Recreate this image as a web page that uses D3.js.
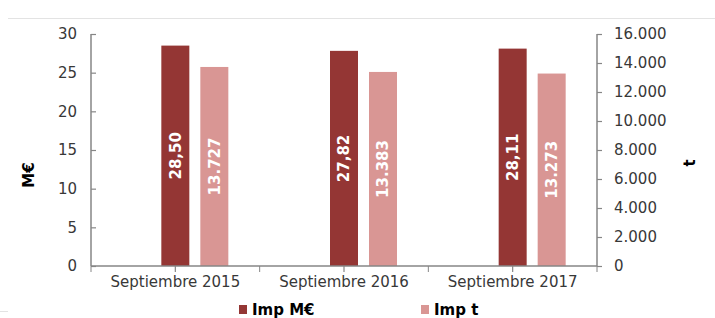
<!DOCTYPE html>
<html>
<head>
<meta charset="utf-8">
<script src="https://cdn.jsdelivr.net/npm/d3@7"></script>
<style>
  body { margin: 0; background: #fff; }
  text { font-family: "DejaVu Sans", Verdana, sans-serif; }
</style>
</head>
<body>
<div class="canvas"></div>
<script>
// data
const categories = ['Septiembre 2015', 'Septiembre 2016', 'Septiembre 2017'];
const impMEuro = [28.50, 27.82, 28.11];
const impT = [13727, 13383, 13273];
const seriesNames = ['Imp M€', 'Imp t'];
const leftTicks = [0, 5, 10, 15, 20, 25, 30];
const rightTicks = [0, 2000, 4000, 6000, 8000, 10000, 12000, 14000, 16000];

const dims = {width: 715, height: 318};
const plot = {left: 91, right: 597, top: 34, bottom: 266};
const colors = ['#943634', '#d99694'];
const axisColor = '#868686';
const textColor = '#383838';
const fontSize = 15;

const es = d3.formatLocale({decimal: ',', thousands: '.', grouping: [3], currency: ['', '€']});
const fmtThousands = es.format(',d');
const fmtDec = es.format(',.2f');

const svg = d3.select('.canvas')
    .append('svg')
    .attr('width', dims.width)
    .attr('height', dims.height);

// faint frame edges
svg.append('line')
    .attr('x1', 8).attr('x2', dims.width).attr('y1', 18.5).attr('y2', 18.5)
    .attr('stroke', '#e3e3e3');
svg.append('line')
    .attr('x1', 0).attr('x2', 8).attr('y1', 311.5).attr('y2', 311.5)
    .attr('stroke', '#e3e3e3');

const x = d3.scaleBand()
    .domain(categories)
    .range([plot.left, plot.right]);

const yLeft = d3.scaleLinear()
    .domain([0, 30])
    .range([plot.bottom, plot.top]);

const yRight = d3.scaleLinear()
    .domain([0, 16000])
    .range([plot.bottom, plot.top]);

const barW = 28;
const barStep = 39;

const graph = svg.append('g');

const rows = categories.map((c, i) => ({cat: c, vals: [impMEuro[i], impT[i]]}));

// bars
rows.forEach(r => {
    r.vals.forEach((v, j) => {
        const scale = j === 0 ? yLeft : yRight;
        const bx = x(r.cat) + x.bandwidth() / 2 - barW / 2 + j * barStep;
        const by = scale(v);
        graph.append('rect')
            .attr('x', bx)
            .attr('y', by)
            .attr('width', barW)
            .attr('height', plot.bottom - by)
            .attr('fill', colors[j]);

        const cx = bx + barW / 2;
        const cy = (by + plot.bottom) / 2;
        graph.append('text')
            .attr('transform', `translate(${cx}, ${cy}) rotate(-90)`)
            .attr('text-anchor', 'middle')
            .attr('dy', '0.36em')
            .attr('fill', '#fff')
            .attr('font-weight', 'bold')
            .attr('font-size', fontSize)
            .text(j === 0 ? fmtDec(v) : fmtThousands(v));
    });
});

// left axis
const leftAxis = svg.append('g')
    .attr('transform', `translate(${plot.left}, 0)`)
    .call(d3.axisLeft(yLeft).tickValues(leftTicks).tickSize(-5).tickPadding(14).tickFormat(d => d));

// right axis
const rightAxis = svg.append('g')
    .attr('transform', `translate(${plot.right}, 0)`)
    .call(d3.axisRight(yRight).tickValues(rightTicks).tickSize(5).tickPadding(12).tickFormat(fmtThousands));

// x axis
const xAxis = svg.append('g')
    .attr('transform', `translate(0, ${plot.bottom})`)
    .call(d3.axisBottom(x).tickSize(6).tickPadding(4));

// boundary ticks
const bounds = [plot.left].concat(categories.map(c => x(c) + x.bandwidth()));
xAxis.selectAll('.bound')
    .data(bounds)
    .enter()
    .append('line')
    .attr('class', 'bound')
    .attr('x1', d => d).attr('x2', d => d)
    .attr('y1', 0).attr('y2', 6)
    .attr('stroke', axisColor);

[leftAxis, rightAxis, xAxis].forEach(a => {
    a.select('.domain').attr('stroke', axisColor).attr('stroke-width', 1.5);
    a.selectAll('.tick line').attr('stroke', axisColor).attr('stroke-width', 1.2);
    a.selectAll('.tick text')
        .attr('fill', textColor)
        .attr('font-size', fontSize)
        .attr('font-family', '"DejaVu Sans", Verdana, sans-serif');
});
leftAxis.select('.domain').attr('d', `M0,${plot.top}V${plot.bottom}`);
rightAxis.select('.domain').attr('d', `M0,${plot.top}V${plot.bottom}`);
xAxis.select('.domain').attr('d', `M${plot.left},0H${plot.right}`);

// axis titles
svg.append('text')
    .attr('transform', 'translate(29, 175) rotate(-90)')
    .attr('text-anchor', 'middle')
    .attr('dy', '0.36em')
    .attr('font-weight', 'bold')
    .attr('font-size', fontSize)
    .attr('fill', '#000')
    .text('M€');

svg.append('text')
    .attr('transform', 'translate(690, 163) rotate(-90)')
    .attr('text-anchor', 'middle')
    .attr('dy', '0.36em')
    .attr('font-weight', 'bold')
    .attr('font-size', fontSize)
    .attr('fill', '#000')
    .text('t');

// legend
const legendX = [239, 421];
const legend = svg.selectAll('.legend')
    .data(seriesNames)
    .enter()
    .append('g')
    .attr('class', 'legend')
    .attr('transform', (d, i) => `translate(${legendX[i]}, 305)`);

legend.append('rect')
    .attr('width', 8)
    .attr('height', 9)
    .attr('fill', (d, i) => colors[i]);

legend.append('text')
    .attr('x', 13)
    .attr('y', 9.5)
    .attr('font-weight', 'bold')
    .attr('font-size', fontSize)
    .attr('fill', '#000')
    .text(d => d);
</script>
</body>
</html>
